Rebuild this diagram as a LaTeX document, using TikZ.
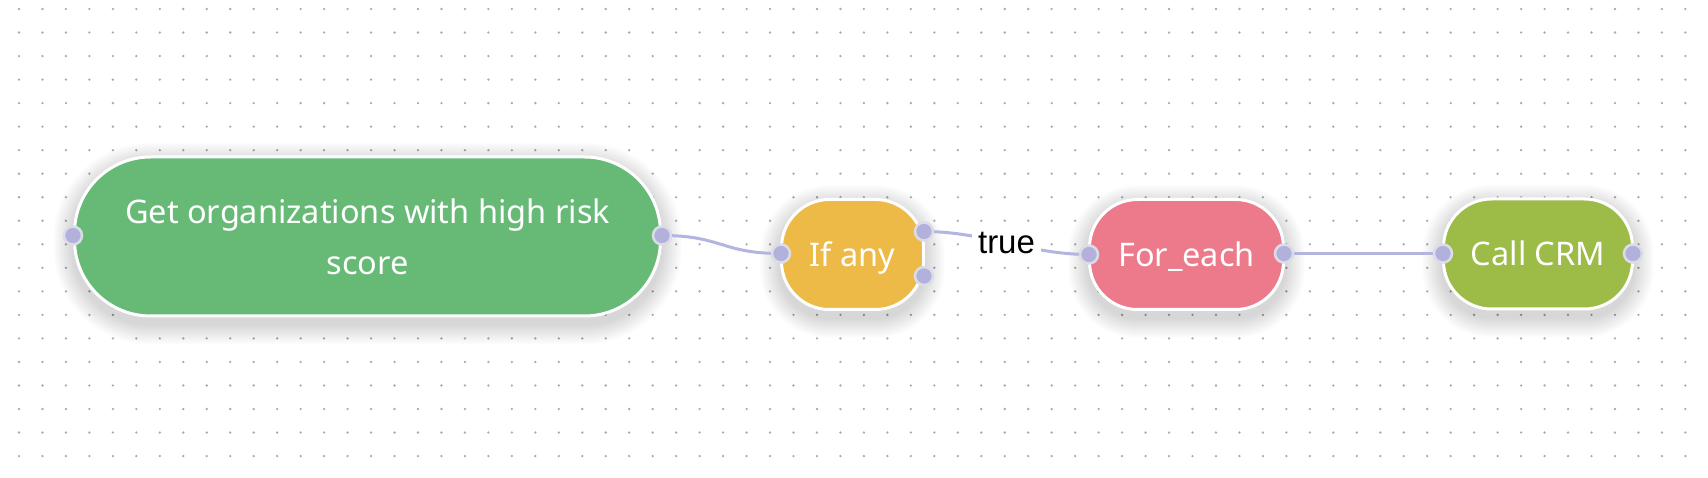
\documentclass[tikz,border=0pt]{standalone}
\usepackage{fontspec}
\setmainfont{Noto Sans}
\newfontfamily\labelfont{Liberation Sans}
\usetikzlibrary{calc,backgrounds}
\definecolor{cgreen}{HTML}{66BA76}
\definecolor{cyellow}{HTML}{EEBA47}
\definecolor{cpink}{HTML}{EC7A8A}
\definecolor{colive}{HTML}{9CBB47}
\definecolor{cport}{HTML}{B1B1DC}
\definecolor{cportb}{HTML}{DCDCE6}
\definecolor{cline}{HTML}{B4B4E0}
\definecolor{cdot}{HTML}{ABABAB}
\newcommand\flowshadow[2]{%
  \foreach \k in {1,...,20}{%
    \pgfmathsetmacro\rr{#2+\k}%
    \fill[black, opacity=0.0085, rounded corners=\rr pt] ($(#1.north west)+(-\k,{7-\k})$) rectangle ($(#1.south east)+(\k,{7+\k})$);
  }}
\begin{document}
\begin{tikzpicture}[x=1pt,y=-1pt,
  flownode/.style={rectangle, draw=white, line width=3pt, text=white, inner sep=0pt,
    font=\fontsize{32.5}{51}\selectfont},
  smallnode/.style={flownode, minimum height=110pt, rounded corners=48pt, text height=24pt, text depth=0pt},
  port/.style={circle, fill=cport, draw=cportb, line width=2.5pt, minimum size=18pt, inner sep=0pt},
  conn/.style={draw=cline, line width=3pt},
  lbl/.style={fill=white, text=black, inner xsep=6pt, inner ysep=4pt, font=\labelfont\fontsize{33}{33}\selectfont}
]
\useasboundingbox (0,0) rectangle (1708,478);

\node[flownode, fill=cgreen, minimum width=586pt, minimum height=159pt, rounded corners=76pt, align=center] (g) at (367.5,236.5) {Get organizations with high risk\\score};
\node[smallnode, fill=cyellow, minimum width=142pt] (y) at (852.5,254.5) {If any};
\node[smallnode, fill=cpink, minimum width=194pt] (p) at (1186.5,254.5) {For\_each};
\node[smallnode, fill=colive, minimum width=189pt] (c) at (1538,254) {Call CRM};

\begin{scope}[on background layer]
\fill[white] (0,0) rectangle (1708,478);
\foreach \i in {0,...,71}{\foreach \j in {0,...,19}{\fill[cdot] ({19+23.47*\i},{9+23.53*\j}) circle (1.3pt);}}
\flowshadow{g}{77}
\flowshadow{y}{49}
\flowshadow{p}{49}
\flowshadow{c}{49}
\end{scope}

\coordinate (gL) at ($(g.west)+(0,-1)$);
\coordinate (gR) at ($(g.east)+(0,-1)$);
\coordinate (yL) at ($(y.west)+(1,-1)$);
\coordinate (yT) at ($(y.east)+(-1,-23)$);
\coordinate (yB) at ($(y.east)+(-1,21.5)$);
\coordinate (pL) at ($(p.west)+(1,0)$);
\coordinate (pR) at ($(p.east)+(-1,-1)$);
\coordinate (cL) at ($(c.west)+(1,-0.5)$);
\coordinate (cR) at ($(c.east)+(-1,-0.5)$);

\draw[conn] (gR) .. controls +(60,0) and +(-60,0) .. (yL);
\draw[conn] (yT) .. controls +(60,0) and +(-60,0) .. node[lbl] (t) {true} (pL);
\draw[conn] (pR) .. controls +(60,0) and +(-60,0) .. (cL);

\foreach \q in {gL,gR,yL,yT,yB,pL,pR,cL,cR}{\node[port] (\q p) at (\q) {};}
\end{tikzpicture}
\end{document}
